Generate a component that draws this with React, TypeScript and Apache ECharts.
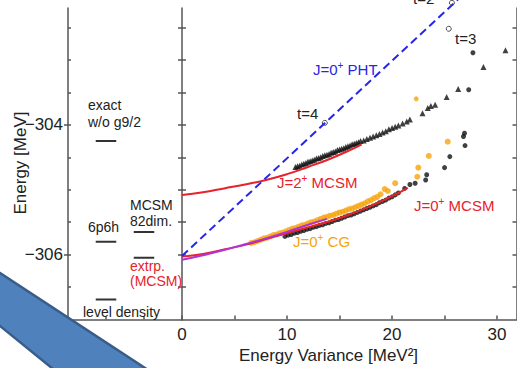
import React, { useEffect, useRef } from 'react';
import * as echarts from 'echarts';

const FONT = '"Liberation Sans", Arial, Helvetica, sans-serif';

// ---------- left panel: reference levels ----------
const levelNames = ['exact w/o g9/2', '6p6h', 'level density', 'MCSM 82dim.', 'extrp. (MCSM)'];
const levelColumn = [1, 1, 1, 2, 2];
const levelEnergy = [-304.25, -305.8, -306.69, -305.65, -306.05];
const levelHalfWidth = 0.27;

// ---------- axes ----------
const yTicks = [-306.5, -306, -305.5, -305, -304.5, -304, -303.5, -303, -302.5];
const yLabels = [-304, -306];
const xTicks = [0, 5, 10, 15, 20, 25, 30];
const xLabels = [0, 10, 20, 30];

// ---------- J=0+ PHT (dashed) ----------
const phtX = [0, 26.4];
const phtE = [-306.02, -302.05];

// ---------- PHT t-points (open circles) ----------
const tX = [13.6, 25.4, 25.7];
const tE = [-303.97, -302.52, -302.12];

// ---------- J=2+ MCSM ----------
const j2FitX = [0, 2, 4, 6, 8, 10, 12, 14, 16, 17.1];
const j2FitE = [-305.08, -305.04, -304.98, -304.92, -304.85, -304.76, -304.65, -304.53, -304.39, -304.3];
const j2TriX = [10.8, 11.0, 11.2, 11.4, 11.6, 11.8, 12.0, 12.2, 12.4, 12.6, 12.8, 13.0, 13.2, 13.4, 13.6, 13.8, 14.0, 14.2, 14.4, 14.6, 14.8, 15.0, 15.2, 15.4, 15.6, 15.8, 16.0, 16.2, 16.4, 16.6, 16.8, 17.0, 17.3, 17.6, 17.9, 18.2, 18.5, 18.8, 19.1, 19.4, 19.7, 20.0, 20.3, 20.6, 21.0, 21.4, 21.7, 22.9, 23.4, 23.7, 24.1, 25.2, 26.3, 28.7, 30.8];
const j2TriE = [-304.65, -304.64, -304.63, -304.61, -304.6, -304.59, -304.57, -304.56, -304.55, -304.54, -304.52, -304.51, -304.5, -304.48, -304.47, -304.46, -304.45, -304.43, -304.42, -304.41, -304.39, -304.38, -304.37, -304.36, -304.34, -304.33, -304.32, -304.3, -304.29, -304.28, -304.27, -304.25, -304.24, -304.22, -304.2, -304.18, -304.16, -304.14, -304.12, -304.1, -304.07, -304.05, -304.03, -304.01, -303.98, -303.95, -303.92, -303.82, -303.74, -303.71, -303.69, -303.57, -303.45, -303.11, -302.85];
const j2DotX = [27.3, 27.7];
const j2DotE = [-303.46, -302.89];
const j2CgX = [22.3];
const j2CgE = [-303.6];

// ---------- J=0+ MCSM ----------
const j0FitX = [0, 2, 4, 6, 8, 10, 12, 14, 16, 18, 20, 21.5];
const j0FitE = [-306.03, -305.99, -305.92, -305.85, -305.76, -305.67, -305.58, -305.49, -305.38, -305.25, -305.1, -304.97];
const j0DotX = [9.8, 10.1, 10.4, 10.7, 11.0, 11.3, 11.6, 11.9, 12.2, 12.5, 12.8, 13.1, 13.4, 13.7, 14.0, 14.3, 14.6, 14.9, 15.2, 15.5, 15.8, 16.1, 16.4, 16.7, 17.0, 17.3, 17.6, 17.9, 18.2, 18.5, 18.8, 19.1, 19.4, 19.7, 20.0, 20.3, 20.6, 21.2, 21.7, 22.2, 23.2, 23.3, 25.0, 25.5, 26.95, 26.8, 26.9];
const j0DotE = [-305.72, -305.7, -305.69, -305.67, -305.66, -305.64, -305.63, -305.61, -305.6, -305.58, -305.57, -305.55, -305.54, -305.52, -305.51, -305.49, -305.47, -305.46, -305.44, -305.42, -305.4, -305.39, -305.37, -305.35, -305.33, -305.31, -305.29, -305.27, -305.25, -305.23, -305.2, -305.18, -305.16, -305.13, -305.11, -305.08, -305.05, -304.98, -304.92, -304.9, -304.85, -304.77, -304.66, -304.49, -304.32, -304.18, -304.13];

// ---------- J=0+ CG ----------
const cgFitX = [0, 2, 4, 6, 8, 10, 12, 13.8];
const cgFitE = [-306.08, -306.01, -305.93, -305.84, -305.75, -305.65, -305.54, -305.45];
const cgDotX = [6.6, 6.9, 7.2, 7.5, 7.8, 8.1, 8.4, 8.7, 9.0, 9.3, 9.6, 9.9, 10.2, 10.5, 10.8, 11.1, 11.4, 11.7, 12.0, 12.3, 12.6, 12.9, 13.2, 13.5, 13.8, 14.1, 14.4, 14.7, 15.0, 15.3, 15.6, 15.9, 16.2, 16.5, 16.8, 17.1, 17.4, 17.7, 18.0, 18.3, 18.6, 18.9, 19.3, 19.6, 20.3, 22.4, 22.5, 23.5, 25.3];
const cgDotE = [-305.82, -305.81, -305.79, -305.77, -305.75, -305.74, -305.72, -305.7, -305.69, -305.67, -305.66, -305.64, -305.62, -305.6, -305.59, -305.57, -305.55, -305.54, -305.52, -305.5, -305.49, -305.47, -305.45, -305.43, -305.42, -305.4, -305.39, -305.37, -305.35, -305.34, -305.32, -305.3, -305.29, -305.27, -305.25, -305.23, -305.21, -305.18, -305.16, -305.13, -305.11, -305.07, -304.99, -305.02, -304.9, -304.8, -304.66, -304.48, -304.26];

const zip = (xs: number[], ys: number[]) => xs.map((x, i) => [x, ys[i]]);

const BLUE = '#2626e6';
const RED = '#e8222b';
const ORANGE = '#f6a40c';
const PURPLE = '#b232d6';
const BLACK = '#111111';
const AXIS = '#555555';
const TXT = '#222222';

function txt(x: number, y: number, text: string, size: number, color = TXT, align = 'left', extra: any = {}) {
  return {
    type: 'text',
    x,
    y,
    z: 50,
    ...extra,
    style: {
      text,
      fill: color,
      font: `${size}px ${FONT}`,
      textAlign: align,
      textVerticalAlign: 'middle',
      align,
      verticalAlign: 'middle',
    },
  };
}

function supTxt(x: number, y: number, a: string, b: string, size: number, color: string) {
  return {
    type: 'text',
    x,
    y,
    z: 50,
    style: {
      text: `{m|${a}}{s|+}{m|${b}}`,
      fill: color,
      font: `${size}px ${FONT}`,
      textAlign: 'left',
      textVerticalAlign: 'middle',
      align: 'left',
      verticalAlign: 'middle',
      rich: {
        m: { fontSize: size, fontFamily: FONT, fill: color, textFill: color },
        s: { fontSize: 10, fontFamily: FONT, fill: color, textFill: color, padding: [0, 0, 8, 0] },
      },
    },
  };
}

export default function App() {
  const ref = useRef<HTMLDivElement>(null);
  useEffect(() => {
    if (!ref.current) return;
    const chart = echarts.init(ref.current, undefined, { renderer: 'svg' });
    const yRange = { min: -307, max: -302.2 };
    const lineSt = { color: AXIS, width: 1.5 };

    const levelSeries = levelEnergy.map((e, i) => ({
      type: 'line',
      name: levelNames[i],
      xAxisIndex: 0,
      yAxisIndex: 0,
      data: [
        [levelColumn[i] - levelHalfWidth, e],
        [levelColumn[i] + levelHalfWidth, e],
      ],
      symbol: 'none',
      lineStyle: { color: '#333', width: 2 },
      silent: true,
    }));

    const main = { xAxisIndex: 1, yAxisIndex: 2 };

    const option: any = {
      animation: false,
      backgroundColor: '#ffffff',
      textStyle: { fontFamily: FONT },
      grid: [
        { left: 68, top: 8, width: 114, height: 311.5 },
        { left: 182, top: 8, width: 334.5, height: 311.5 },
      ],
      xAxis: [
        {
          gridIndex: 0,
          type: 'value',
          min: 0,
          max: 3,
          axisLine: { show: true, lineStyle: lineSt },
          axisTick: { show: true, inside: true, length: 3, customValues: [1, 2], lineStyle: lineSt },
          axisLabel: { show: false },
          splitLine: { show: false },
        },
        {
          gridIndex: 1,
          type: 'value',
          min: 0,
          max: 31.85,
          axisLine: { show: true, lineStyle: lineSt },
          axisTick: { show: true, inside: true, length: 4, customValues: xTicks, lineStyle: lineSt },
          axisLabel: { show: true, customValues: xLabels, fontSize: 17, color: TXT, margin: 6, fontFamily: FONT },
          splitLine: { show: false },
        },
      ],
      yAxis: [
        {
          gridIndex: 0,
          type: 'value',
          position: 'left',
          ...yRange,
          axisLine: { show: true, lineStyle: lineSt },
          axisTick: { show: true, inside: true, length: 3, customValues: yTicks, lineStyle: lineSt },
          axisLabel: {
            show: true,
            customValues: yLabels,
            formatter: (v: number) => '\u2212' + Math.abs(v),
            fontSize: 17,
            color: TXT,
            margin: 5,
            fontFamily: FONT,
          },
          splitLine: { show: false },
        },
        {
          gridIndex: 0,
          type: 'value',
          position: 'left',
          ...yRange,
          axisLine: { show: false },
          axisTick: { show: true, inside: false, length: 4, customValues: yLabels, lineStyle: lineSt },
          axisLabel: { show: false },
          splitLine: { show: false },
        },
        {
          gridIndex: 1,
          type: 'value',
          position: 'left',
          ...yRange,
          axisLine: { show: true, lineStyle: lineSt },
          axisTick: { show: true, inside: false, length: 4, customValues: yTicks, lineStyle: lineSt },
          axisLabel: { show: false },
          splitLine: { show: false },
        },
        {
          gridIndex: 1,
          type: 'value',
          position: 'left',
          ...yRange,
          axisLine: { show: false },
          axisTick: { show: true, inside: true, length: 4, customValues: yTicks, lineStyle: lineSt },
          axisLabel: { show: false },
          splitLine: { show: false },
        },
        {
          gridIndex: 1,
          type: 'value',
          position: 'right',
          ...yRange,
          axisLine: { show: true, lineStyle: lineSt },
          axisTick: { show: true, inside: true, length: 4, customValues: yTicks, lineStyle: lineSt },
          axisLabel: { show: false },
          splitLine: { show: false },
        },
      ],
      series: [
        ...levelSeries,
        {
          type: 'scatter',
          name: 'J0 MCSM',
          ...main,
          data: zip(j0DotX, j0DotE),
          symbol: 'circle',
          symbolSize: 5,
          itemStyle: { color: BLACK },
        },
        {
          type: 'line',
          name: 'J0 MCSM fit',
          ...main,
          data: zip(j0FitX, j0FitE),
          smooth: true,
          symbol: 'none',
          lineStyle: { color: RED, width: 2 },
        },
        {
          type: 'scatter',
          name: 'J0 CG',
          ...main,
          data: zip(cgDotX, cgDotE),
          symbol: 'circle',
          symbolSize: 6,
          itemStyle: { color: ORANGE },
        },
        {
          type: 'line',
          name: 'J0 CG fit',
          ...main,
          data: zip(cgFitX, cgFitE),
          smooth: true,
          symbol: 'none',
          lineStyle: { color: PURPLE, width: 2 },
        },
        {
          type: 'scatter',
          name: 'J2 MCSM',
          ...main,
          data: zip(j2TriX, j2TriE),
          symbol: 'triangle',
          symbolSize: 6,
          itemStyle: { color: BLACK },
        },
        {
          type: 'scatter',
          name: 'J2 dots',
          ...main,
          data: zip(j2DotX, j2DotE),
          symbol: 'circle',
          symbolSize: 5,
          itemStyle: { color: BLACK },
        },
        {
          type: 'scatter',
          name: 'J2 CG',
          ...main,
          data: zip(j2CgX, j2CgE),
          symbol: 'circle',
          symbolSize: 5,
          itemStyle: { color: ORANGE },
        },
        {
          type: 'line',
          name: 'J2 MCSM fit',
          ...main,
          data: zip(j2FitX, j2FitE),
          smooth: true,
          symbol: 'none',
          lineStyle: { color: RED, width: 2 },
        },
        {
          type: 'line',
          name: 'PHT',
          ...main,
          data: zip(phtX, phtE),
          symbol: 'none',
          clip: false,
          lineStyle: { color: BLUE, width: 2, type: [8, 4.5] },
        },
        {
          type: 'scatter',
          name: 'PHT t',
          ...main,
          data: zip(tX, tE),
          clip: false,
          symbol: 'circle',
          symbolSize: 5,
          itemStyle: { color: '#ffffff', borderColor: '#222', borderWidth: 1 },
        },
      ],
      graphic: [
        // left panel labels
        txt(88, 105, 'exact', 14),
        txt(88, 122, 'w/o g9/2', 14),
        txt(88, 227, '6p6h', 14),
        txt(130, 205, 'MCSM', 14),
        txt(130, 221, '82dim.', 14),
        txt(130, 266, 'extrp.', 14, RED),
        txt(130, 281, '(MCSM)', 14, RED),
        txt(83, 312, 'level density', 14),
        // axis titles
        txt(20, 163, 'Energy [MeV]', 17, TXT, 'center', { rotation: Math.PI / 2 }),
        txt(328.5, 355, 'Energy Variance [MeV\u00b2]', 17, TXT, 'center'),
        // main annotations
        supTxt(313, 69, 'J=0', ' PHT', 15, BLUE),
        txt(297, 113, 't=4', 15),
        txt(455, 38, 't=3', 15),
        txt(413, -2, 't=2', 15),
        supTxt(277, 182, 'J=2', ' MCSM', 15, RED),
        supTxt(414, 205, 'J=0', ' MCSM', 15, RED),
        supTxt(293, 241, 'J=0', ' CG', 15, ORANGE),
        // decorative slide stripe
        {
          type: 'polygon',
          z: 100,
          shape: {
            points: [
              [-10, 266.5],
              [155.7, 375],
              [60.5, 375],
              [-10, 317.9],
            ],
          },
          style: { fill: '#4f81bd', stroke: '#385d8a', lineWidth: 2.5 },
        },
      ],
    };
    chart.setOption(option);
    return () => chart.dispose();
  }, []);
  return (
    <div
      ref={ref}
      style={{ position: 'fixed', left: 0, top: 0, width: 517, height: 368, background: '#fff' }}
    />
  );
}
